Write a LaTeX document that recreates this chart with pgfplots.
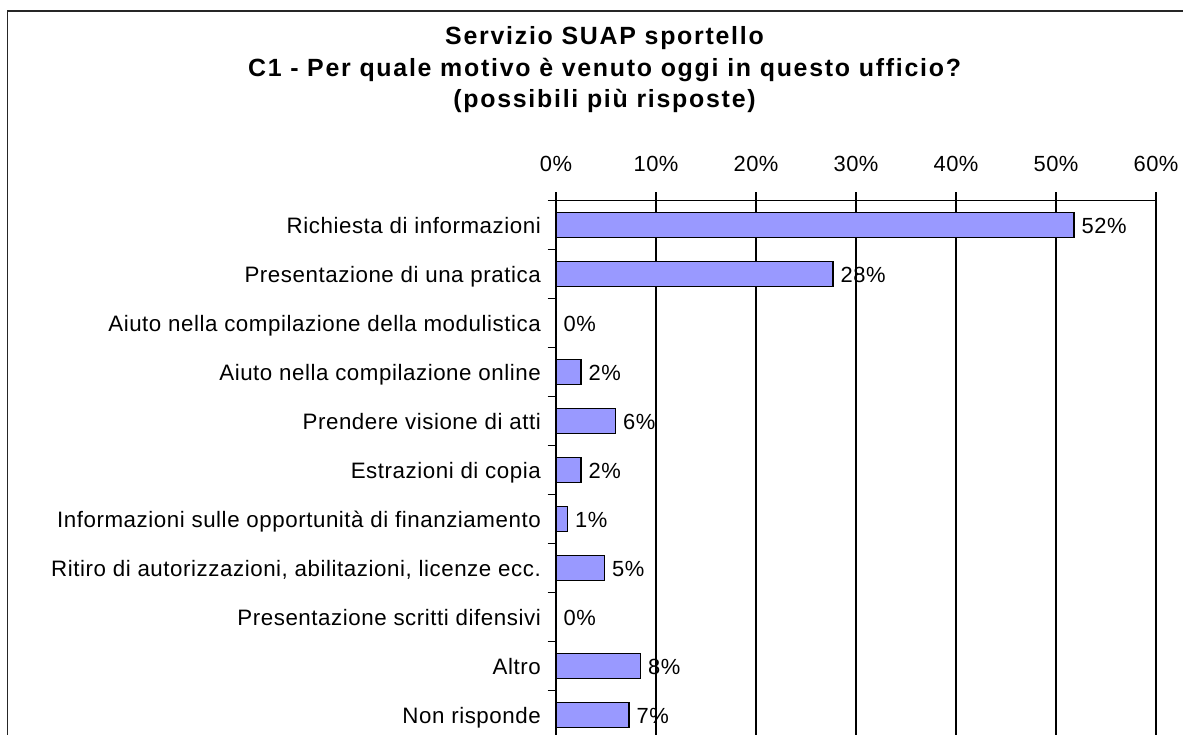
\documentclass[border=0pt]{standalone}
\usepackage{pgfplots}
\pgfplotsset{compat=1.18}
\usepackage{fontspec}
\setmainfont{Liberation Sans}
\newfontfamily\titlefont[LetterSpace=7]{Liberation Sans}
\newfontfamily\labfont[LetterSpace=2.5]{Liberation Sans}
\definecolor{barfill}{HTML}{9999FF}
\begin{document}
\begin{tikzpicture}[x=1bp,y=1bp]
\useasboundingbox (0,0) rectangle (1183,-735);
\draw[line width=1.4bp, black!85] (7.5,-800) -- (7.5,-11) -- (1300,-11);
\node[anchor=base, inner sep=0pt, font=\titlefont\bfseries\fontsize{25}{28}\selectfont] at (604.5,-44.3) {Servizio SUAP sportello};
\node[anchor=base, inner sep=0pt, font=\titlefont\bfseries\fontsize{25}{28}\selectfont] at (604.5,-76.3) {C1 - Per quale motivo è venuto oggi in questo ufficio?};
\node[anchor=base, inner sep=0pt, font=\titlefont\bfseries\fontsize{25}{28}\selectfont] at (604.5,-107.8) {(possibili più risposte)};
\begin{axis}[
  at={(556bp,-200.5bp)}, anchor=north west,
  scale only axis, width=600bp, height=539bp,
  xbar, bar width=25bp,
  xmin=0, xmax=60, ymin=-0.5, ymax=10.5, y dir=reverse,
  axis line style={black, line width=1.2bp},
  tick style={black, line width=1.2bp},
  major tick length=8.5bp, tick align=outside,
  xtick={0,10,20,30,40,50,60},
  xticklabels={0\%,10\%,20\%,30\%,40\%,50\%,60\%},
  xtick pos=right, xticklabel pos=right,
  xmajorgrids, grid style={black, line width=1.2bp},
  xticklabel style={font=\labfont\fontsize{22}{26}\selectfont, anchor=base, inner sep=0pt, yshift=21bp},
  ytick={-0.5,0.5,1.5,2.5,3.5,4.5,5.5,6.5,7.5,8.5,9.5,10.5},
  yticklabels={},
  ytick pos=left,
  extra y ticks={0,1,2,3,4,5,6,7,8,9,10},
  extra y tick labels={Richiesta di informazioni,Presentazione di una pratica,Aiuto nella compilazione della modulistica,Aiuto nella compilazione online,Prendere visione di atti,Estrazioni di copia,Informazioni sulle opportunità di finanziamento,{Ritiro di autorizzazioni, abilitazioni, licenze ecc.},Presentazione scritti difensivi,Altro,Non risponde},
  extra y tick style={major tick length=0pt, tick style={draw=none}, grid=none,
    yticklabel style={font=\labfont\fontsize{22.4}{26}\selectfont, anchor=base east, inner sep=0pt, xshift=-15bp, yshift=-8bp}},
]
\addplot[fill=barfill, draw=black, line width=1.2bp,
  nodes near coords, point meta=explicit symbolic,
  every node near coord/.append style={anchor=base west, inner sep=0pt, xshift=7bp, yshift=-8bp, font=\labfont\fontsize{22}{26}\selectfont, black}]
  coordinates {
  (51.8,0) [52\%]
  (27.7,1) [28\%]
  (0,2) [0\%]
  (2.5,3) [2\%]
  (5.95,4) [6\%]
  (2.5,5) [2\%]
  (1.15,6) [1\%]
  (4.85,7) [5\%]
  (0,8) [0\%]
  (8.45,9) [8\%]
  (7.3,10) [7\%]
  };
\end{axis}
\end{tikzpicture}
\end{document}
